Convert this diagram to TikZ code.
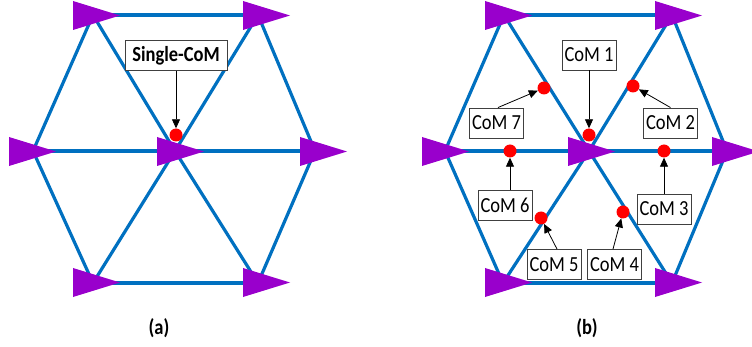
\documentclass[tikz,border=0pt]{standalone}
\usepackage{fontspec}
\setmainfont{Carlito}
\newfontfamily\narrowfont[FakeStretch=0.86]{Carlito}
\usetikzlibrary{arrows.meta}
\definecolor{blueline}{HTML}{0070C0}
\definecolor{purp}{HTML}{9900CC}
\definecolor{boxgray}{HTML}{404040}
\newcommand\purtri[2]{\fill[purp] (#1,#2-14.5) -- (#1,#2+14.5) -- (#1+47,#2) -- cycle;}
\begin{document}
\begin{tikzpicture}[x=1pt,y=-1pt,
  edge/.style={draw=blueline, line width=3.2pt},
  dot/.style={circle, fill=red, inner sep=0pt, minimum size=13pt},
  lbl/.style={draw=boxgray, line width=0.9pt, fill=white, inner sep=0pt, minimum height=30pt, minimum width=54pt, font=\narrowfont\fontsize{21.5}{21.5}\selectfont},
  ptr/.style={-{Triangle[length=9pt,width=8pt]}, line width=0.8pt},
  captext/.style={font=\narrowfont\fontsize{21.5}{21.5}\selectfont\bfseries}
]
\useasboundingbox (0,0) rectangle (752,347);
\clip (0,0) rectangle (752,347);
% panel (a) vertices
\coordinate (aTL) at (93,15);
\coordinate (aTR) at (258,15);
\coordinate (aML) at (33,151);
\coordinate (aC)  at (175,151);
\coordinate (aMR) at (315,151);
\coordinate (aBL) at (93,283);
\coordinate (aBR) at (258,283);
% panel (b) vertices
\coordinate (bTL) at (504,15);
\coordinate (bTR) at (672,15);
\coordinate (bML) at (445,151);
\coordinate (bC)  at (589,151);
\coordinate (bMR) at (727,151);
\coordinate (bBL) at (503,283);
\coordinate (bBR) at (672,283);
\foreach \p in {a,b}{
  \draw[edge] (\p TL) -- (\p TR);
  \draw[edge] (\p ML) -- (\p MR);
  \draw[edge] (\p BL) -- (\p BR);
  \draw[edge] (\p TL) -- (\p ML) -- (\p BL) -- (\p C) -- (\p TL);
  \draw[edge] (\p TR) -- (\p MR) -- (\p BR) -- (\p C) -- (\p TR);
}
% triangles (a)
\purtri{73}{15.5}
\purtri{243}{15.5}
\purtri{9}{151.5}
\purtri{157}{151.5}
\purtri{300}{151.5}
\purtri{73}{282.5}
\purtri{243}{282.5}
% triangles (b)
\purtri{485}{15.5}
\purtri{655}{15.5}
\purtri{422}{151.5}
\purtri{568}{151.5}
\purtri{712}{151.5}
\purtri{485}{282.5}
\purtri{655}{282.5}
% panel (a) single CoM
\node[dot] (sd) at (176,135) {};
\node[lbl, minimum width=102pt, font=\narrowfont\fontsize{21.5}{21.5}\selectfont\bfseries] (sb) at (176,55.5) {Single-CoM};
\draw[ptr] (sb.south -| sd) -- (sd);
% panel (b) CoMs
\node[dot] (d1) at (589,135) {};
\node[dot] (d2) at (633,86) {};
\node[dot] (d3) at (664,151) {};
\node[dot] (d4) at (623,212) {};
\node[dot] (d5) at (541,218) {};
\node[dot] (d6) at (510,151) {};
\node[dot] (d7) at (544,88) {};
\node[lbl] (b1) at (589,55) {CoM 1};
\node[lbl] (b2) at (670.5,123) {CoM 2};
\node[lbl] (b3) at (664,209) {CoM 3};
\node[lbl] (b4) at (614.5,264.5) {CoM 4};
\node[lbl] (b5) at (554,264.5) {CoM 5};
\node[lbl] (b6) at (505,205) {CoM 6};
\node[lbl] (b7) at (496.5,123) {CoM 7};
\draw[ptr] (b1.south -| d1) -- (d1);
\draw[ptr] (b2.north) -- (d2);
\draw[ptr] (b3.north -| d3) -- (d3);
\draw[ptr] ([xshift=-1.5pt]b4.north) -- (d4);
\draw[ptr] ([xshift=3pt]b5.north) -- (d5);
\draw[ptr] (b6.north -| d6) -- (d6);
\draw[ptr] ([xshift=1.5pt]b7.north) -- (d7);
% captions
\node[captext] (ca) at (159,328) {(a)};
\node[captext] (cb) at (587,328) {(b)};
\end{tikzpicture}
\end{document}
